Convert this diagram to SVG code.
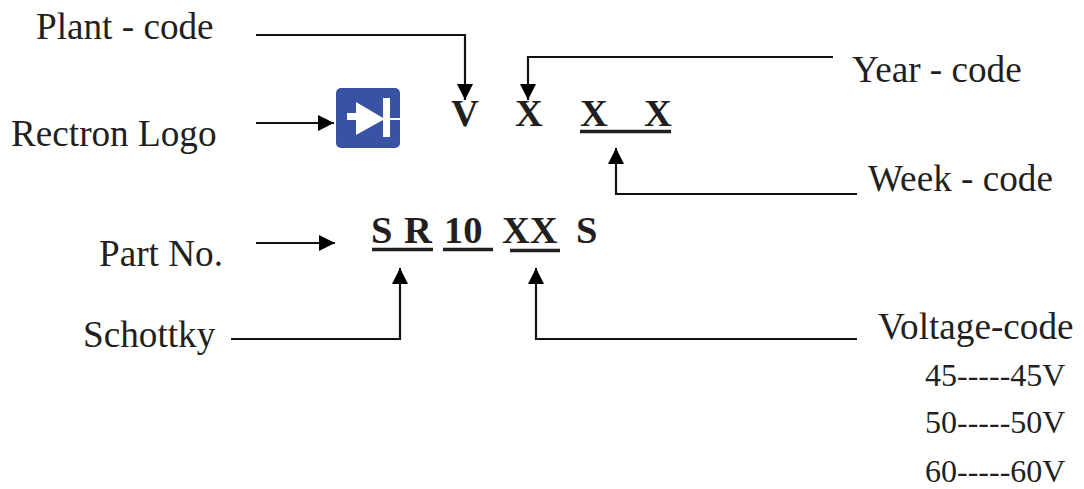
<svg xmlns="http://www.w3.org/2000/svg" width="1084" height="489" viewBox="0 0 1084 489">
<defs><marker id="a" markerUnits="userSpaceOnUse" markerWidth="17" markerHeight="16" refX="16" refY="8" orient="auto"><path d="M0 0L16 8L0 16Z" fill="#000"/></marker></defs>
<style>
text{font-family:"Liberation Serif",serif;fill:#231f20}
.l{font-size:37.2px}
.b{font-size:38.5px;font-weight:bold}
.s{font-size:32px}
.c{fill:none;stroke:#111;stroke-width:2.2;marker-end:url(#a)}
.u{fill:none;stroke:#231f20;stroke-width:3.6}
</style>
<rect width="1084" height="489" fill="#fff"/>
<g id="connectors">
<path class="c" d="M256 35H465V100"/>
<path class="c" d="M256 123H334"/>
<path class="c" d="M833 57H528V100"/>
<path class="c" d="M857 194H616V148"/>
<path class="c" d="M256 243H335"/>
<path class="c" d="M231 339H400V268"/>
<path class="c" d="M857 339H536V268"/>
</g>
<g id="logo"><rect x="336" y="88" width="64" height="60" rx="5" fill="#3953a4"/><path d="M347 113H356V102L383 118V98H390V118H400V120H390V137H383V120L356 135V120H347Z" fill="#fff"/></g>
<g id="plant-code"><text class="l" x="36" y="39">Plant - code</text></g>
<g id="rectron-logo"><text class="l" x="11" y="146">Rectron Logo</text></g>
<g id="part-no"><text class="l" x="99" y="266">Part No.</text></g>
<g id="schottky"><text class="l" x="83" y="347">Schottky</text></g>
<g id="year-code"><text class="l" x="852" y="82">Year - code</text></g>
<g id="week-code"><text class="l" x="868" y="191">Week - code</text></g>
<g id="voltage-code"><text class="l" x="878" y="339">Voltage-code</text></g>
<g id="voltages"><text class="s" x="925" y="386">45-----45V</text><text class="s" x="925" y="433">50-----50V</text><text class="s" x="925" y="482">60-----60V</text></g>
<g id="marking-top"><text class="b" x="451" y="126">V</text><text class="b" x="515" y="126">X</text><text class="b" x="580" y="126">X</text><text class="b" x="644" y="126">X</text><path class="u" d="M580 131.500H671"/></g>
<g id="marking-part"><text class="b" x="371" y="243">S</text><text class="b" x="404" y="243">R</text><text class="b" x="444" y="243">10</text><text class="b" x="502" y="243">XX</text><text class="b" x="576" y="243">S</text><path class="u" d="M372 249.500H433M443 249.500H493M510 250.500H560"/></g>
</svg>
